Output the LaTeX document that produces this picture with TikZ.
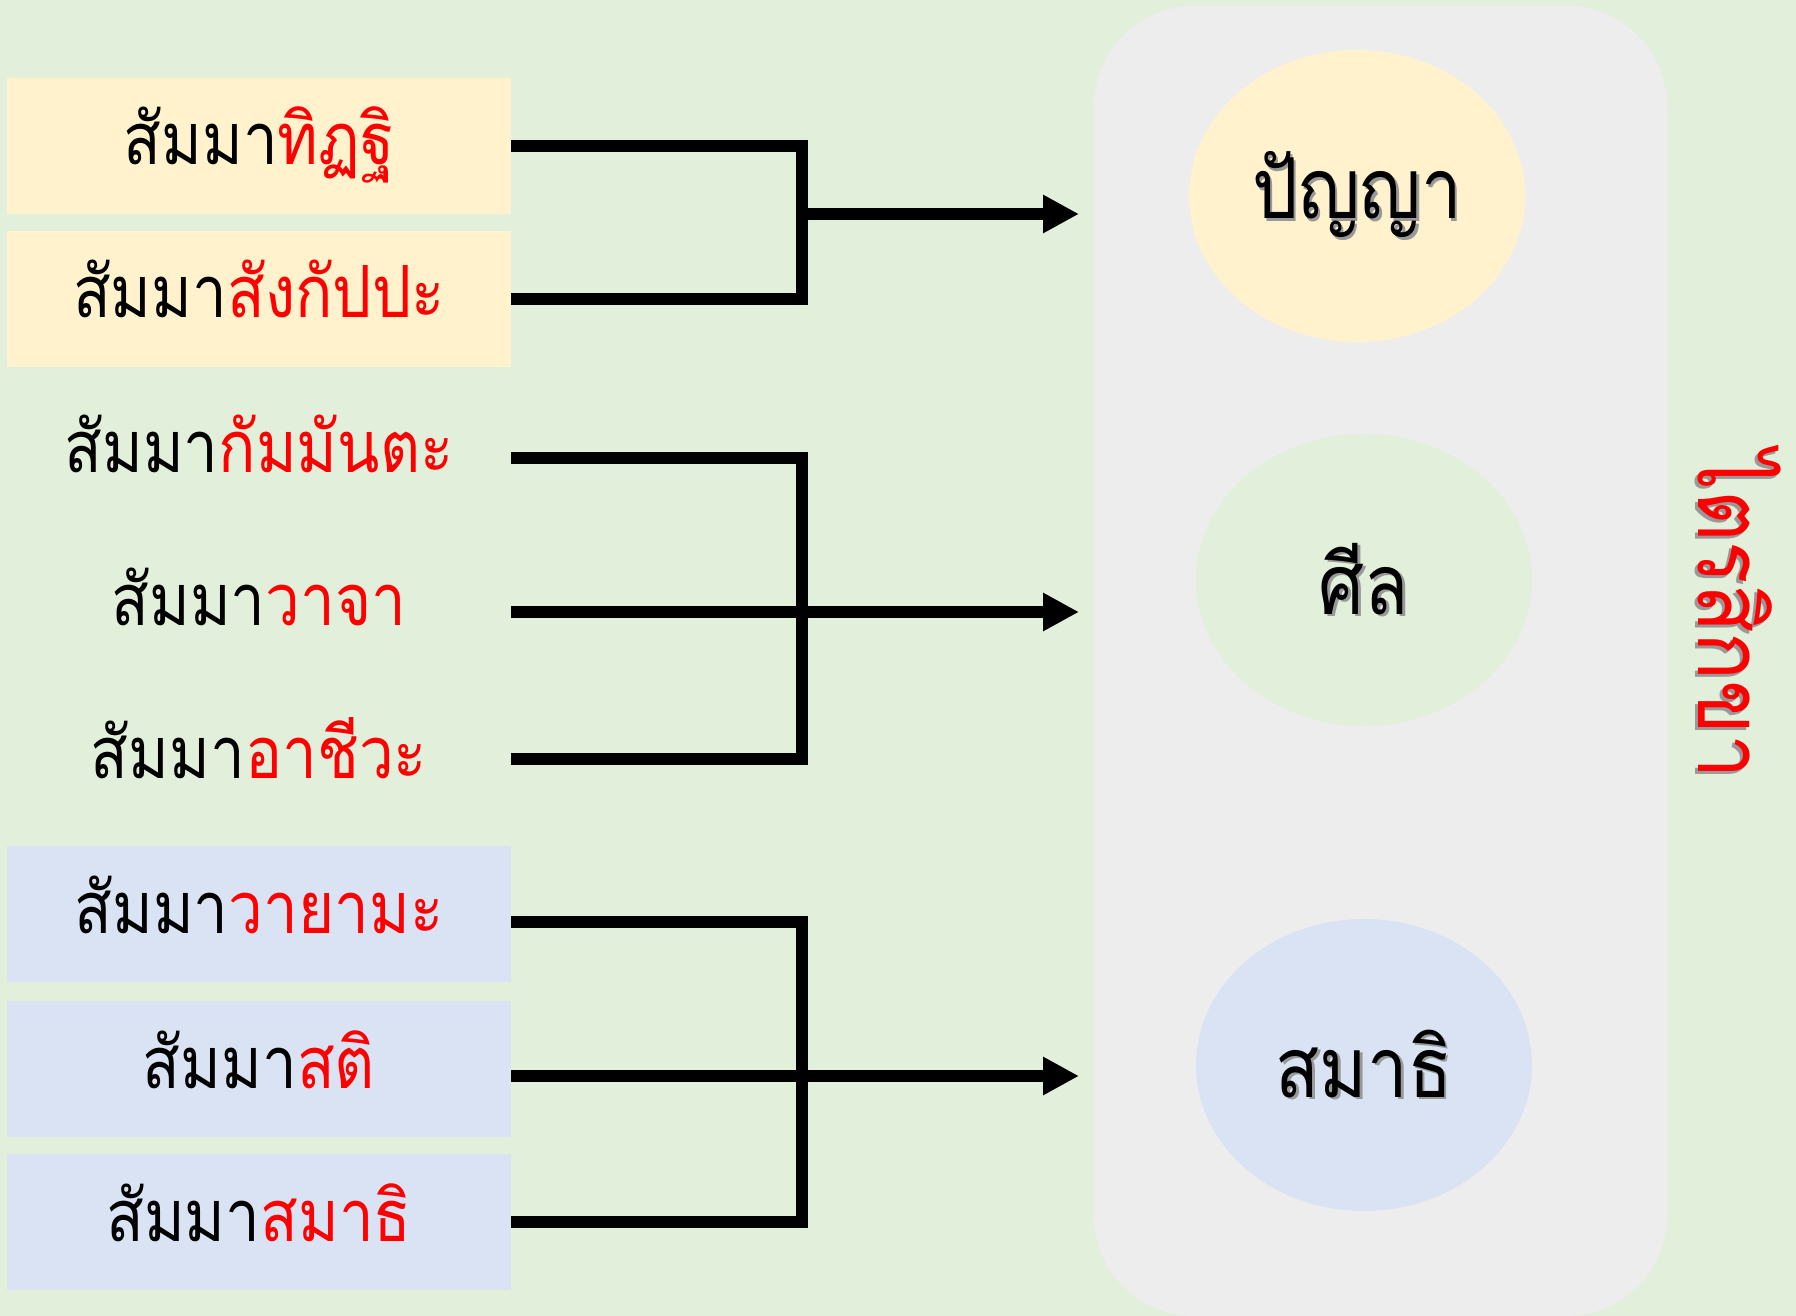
\documentclass[tikz,border=0pt]{standalone}
\usepackage{fontspec}
\newfontfamily\thaifont[Script=Thai,FakeStretch=0.86]{Loma}
\usetikzlibrary{arrows.meta,positioning,shapes.geometric}
\definecolor{bggreen}{HTML}{E2EFDA}
\definecolor{boxyellow}{HTML}{FFF2CC}
\definecolor{boxblue}{HTML}{DAE3F3}
\definecolor{panelgray}{HTML}{EDEDED}
\newcommand{\shtext}[1]{\makebox[0pt][l]{\hspace{1.3pt}\raisebox{-1.3pt}{\color{black!40}#1}}#1}
\tikzset{%
	rowbox/.style     = {rectangle, minimum width=252pt, minimum height=68pt, inner sep=0pt, text height=30pt, text depth=11pt, text centered, font=\thaifont\fontsize{36}{40}\selectfont},
	yellowbox/.style  = {rowbox, fill=boxyellow},
	bluebox/.style    = {rowbox, fill=boxblue},
	groupcircle/.style= {ellipse, minimum width=168pt, minimum height=146pt, inner sep=0pt, font=\thaifont\fontsize{42}{46}\selectfont},
	link/.style       = {line width=6pt},
	arrow/.style      = {line width=6pt,-{Triangle[length=18pt,width=18pt]}},
}

\begin{document}
\begin{tikzpicture}[x=0.5pt,y=-0.5pt]
	\useasboundingbox (0,0) rectangle (1796,1316);
	\fill[bggreen] (0,0) rectangle (1796,1316);  % background
	\fill[panelgray,rounded corners=50pt] (1094,6) rectangle (1667,1316);  % right panel

	% eight rows
	\node[yellowbox] (r1) at (259,146) {สัมมา\textcolor{red}{ทิฏฐิ}};
	\node[yellowbox] (r2) at (259,299) {สัมมา\textcolor{red}{สังกัปปะ}};
	\node[rowbox]    (r3) at (259,454) {สัมมา\textcolor{red}{กัมมันตะ}};
	\node[rowbox]    (r4) at (259,606) {สัมมา\textcolor{red}{วาจา}};
	\node[rowbox]    (r5) at (259,759) {สัมมา\textcolor{red}{อาชีวะ}};
	\node[bluebox]   (r6) at (259,914) {สัมมา\textcolor{red}{วายามะ}};
	\node[bluebox]   (r7) at (259,1069) {สัมมา\textcolor{red}{สติ}};
	\node[bluebox]   (r8) at (259,1222) {สัมมา\textcolor{red}{สมาธิ}};

	% three groups
	\node[groupcircle,fill=boxyellow] (panya)  at (1357,196) {\shtext{ปัญญา}};
	\node[groupcircle,fill=bggreen]   (sila)   at (1364,580) {\shtext{ศีล}};
	\node[groupcircle,fill=boxblue]   (samadhi) at (1364,1065) {\shtext{สมาธิ}};
	\node[rotate=-90,text=red,font=\thaifont\fontsize{46}{50}\selectfont] (trisikkha) at (1738,615) {\shtext{ไตรสิกขา}};

	\coordinate (j1) at (802,214);
	\coordinate (j2) at (802,612);
	\coordinate (j3) at (802,1076);
	\coordinate (a1) at (1079,214);
	\coordinate (a2) at (1079,612);
	\coordinate (a3) at (1079,1076);

	\draw[link] (r1.east) -| (j1) |- (r2.east);
	\draw[arrow] (j1) -- (a1);
	\draw[link] ([yshift=-2pt]r3.east) -| (j2) |- (r5.east);
	\draw[link] ([yshift=-3pt]r4.east) -- (j2);
	\draw[arrow] (j2) -- (a2);
	\draw[link] ([yshift=-4pt]r6.east) -| (j3) |- (r8.east);
	\draw[link] ([yshift=-3.5pt]r7.east) -- (j3);
	\draw[arrow] (j3) -- (a3);
\end{tikzpicture}
\end{document}
